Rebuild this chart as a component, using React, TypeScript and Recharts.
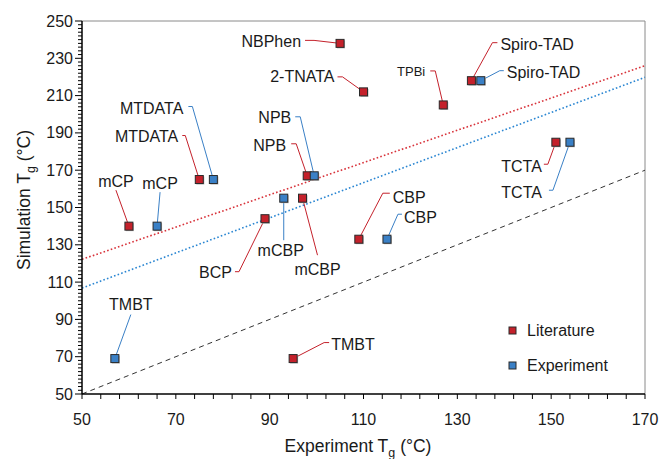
import { Legend, ReferenceLine, Scatter, ScatterChart, XAxis, YAxis } from "recharts";

const FONT = "'Liberation Sans', Arial, Helvetica, sans-serif";
const RED = "#c4212b";
const BLUE = "#3a80c6";

// literature Tg vs simulated Tg
const litNames = ["NBPhen", "2-TNATA", "TPBi", "Spiro-TAD", "TCTA", "MTDATA", "NPB", "mCP", "mCBP", "BCP", "CBP", "TMBT"];
const litX = [105, 110, 127, 133, 151, 75, 98, 60, 97, 89, 109, 95];
const litY = [238, 212, 205, 218, 185, 165, 167, 140, 155, 144, 133, 69];

// measured Tg vs simulated Tg
const expNames = ["Spiro-TAD", "TCTA", "MTDATA", "NPB", "mCP", "mCBP", "CBP", "TMBT"];
const expX = [135, 154, 78, 99.5, 66, 93, 115, 57];
const expY = [218, 185, 165, 167, 140, 155, 133, 69];

// fit lines (endpoints at x = 50 and x = 170)
const fitX = [50, 170];
const litFitY = [122.2, 226];
const expFitY = [106.8, 219.8];
const parityY = [50, 170];

const xMajor = [50, 70, 90, 110, 130, 150, 170];
const yMajor = [50, 70, 90, 110, 130, 150, 170, 190, 210, 230, 250];

const xTicks: number[] = [];
for (let v = 50; v <= 170; v += 4) xTicks.push(v);
const yTicks: number[] = [];
for (let v = 50; v <= 250; v += 2) yTicks.push(v);

const litData = litNames.map((name, i) => ({ name, x: litX[i], y: litY[i] }));
const expData = expNames.map((name, i) => ({ name, x: expX[i], y: expY[i] }));

type Anchor = "start" | "middle" | "end";
interface LabelPos {
  dx: number;
  dy: number;
  anchor: Anchor;
  path: [number, number][];
  size?: number;
}

// label placement relative to the marker, in px
const litLabels: Record<string, LabelPos> = {
  NBPhen: { dx: -39, dy: -2, anchor: "end", path: [[-35, -3], [-26, -3]] },
  "2-TNATA": { dx: -29, dy: -15, anchor: "end", path: [[-26, -15], [-21, -15]] },
  TPBi: { dx: -18, dy: -33, anchor: "end", path: [[-13, -34], [-8, -34]], size: 13 },
  "Spiro-TAD": { dx: 29, dy: -36, anchor: "start", path: [[26, -38], [21, -38]] },
  TCTA: { dx: -14, dy: 24, anchor: "end", path: [[-12, 22], [-8, 22]] },
  MTDATA: { dx: -21, dy: -43, anchor: "end", path: [[-17, -44], [-14, -44]] },
  NPB: { dx: -21, dy: -30, anchor: "end", path: [[-16, -32], [-11, -32]] },
  mCP: { dx: -13, dy: -45, anchor: "middle", path: [[-13, -36]] },
  mCBP: { dx: 15, dy: 71, anchor: "middle", path: [[15, 57]] },
  BCP: { dx: -33, dy: 54, anchor: "end", path: [[-30, 53], [-26, 53]] },
  CBP: { dx: 34, dy: -42, anchor: "start", path: [[31, -46], [24, -46]] },
  TMBT: { dx: 38, dy: -14, anchor: "start", path: [[36, -16], [31, -16]] },
};

const expLabels: Record<string, LabelPos> = {
  "Spiro-TAD": { dx: 26, dy: -8, anchor: "start", path: [[23, -10], [19, -10]] },
  TCTA: { dx: -28, dy: 50, anchor: "end", path: [[-21, 48], [-17, 48]] },
  MTDATA: { dx: -30, dy: -71, anchor: "end", path: [[-25, -73], [-21, -73]] },
  NPB: { dx: -23, dy: -58, anchor: "end", path: [[-19, -59], [-14, -59]] },
  mCP: { dx: 3, dy: -43, anchor: "middle", path: [[3, -34]] },
  mCBP: { dx: -3, dy: 52, anchor: "middle", path: [[0, 42]] },
  CBP: { dx: 17, dy: -22, anchor: "start", path: [[15, -25], [11, -25]] },
  TMBT: { dx: 16, dy: -54, anchor: "middle", path: [[16, -44]] },
};

function Marker({ cx, cy, color, size = 8 }: { cx: number; cy: number; color: string; size?: number }) {
  const h = size / 2;
  return (
    <g>
      <rect x={cx - h + 1} y={cy - h + 1} width={size} height={size} fill="#b5b5b5" />
      <rect x={cx - h} y={cy - h} width={size} height={size} fill={color} stroke="#2a2a2a" strokeWidth={1} />
    </g>
  );
}

function makeShape(color: string, labels: Record<string, LabelPos>) {
  return (props: any) => {
    const { cx, cy, payload } = props;
    const lab = labels[payload.name];
    if (!lab) return <Marker cx={cx} cy={cy} color={color} />;
    const pts = [...lab.path.map(([px, py]) => `${cx + px},${cy + py}`), `${cx},${cy}`].join(" ");
    return (
      <g>
        <polyline points={pts} fill="none" stroke={color} strokeWidth={1} />
        <Marker cx={cx} cy={cy} color={color} />
        <text
          x={cx + lab.dx}
          y={cy + lab.dy}
          textAnchor={lab.anchor}
          dominantBaseline="central"
          fontFamily={FONT}
          fontSize={lab.size ?? 16}
          fill="#1a1a1a"
        >
          {payload.name}
        </text>
      </g>
    );
  };
}

const XTick = ({ x, y, payload }: any) => {
  const major = xMajor.includes(payload.value);
  return (
    <g>
      <line x1={x} x2={x} y1={y} y2={y + 5} stroke="#000" strokeWidth={1} />
      {major && (
        <text x={x} y={y + 25} textAnchor="middle" dominantBaseline="central" fontFamily={FONT} fontSize={16} fill="#1a1a1a">
          {payload.value}
        </text>
      )}
    </g>
  );
};

const YTick = ({ x, y, payload }: any) => {
  const major = yMajor.includes(payload.value);
  return (
    <g>
      <line x1={x} x2={x - (major ? 7 : 4)} y1={y} y2={y} stroke="#000" strokeWidth={1} />
      {major && (
        <text x={x - 9} y={y} textAnchor="end" dominantBaseline="central" fontFamily={FONT} fontSize={16} fill="#1a1a1a">
          {payload.value}
        </text>
      )}
    </g>
  );
};

const LegendBox = () => (
  <div style={{ fontFamily: FONT, fontSize: 16, color: "#1a1a1a" }}>
    {[
      { name: "Literature", color: RED },
      { name: "Experiment", color: BLUE },
    ].map((item) => (
      <div key={item.name} style={{ display: "flex", alignItems: "center", height: 35 }}>
        <svg width={20} height={12} style={{ marginRight: 3 }}>
          <rect x={5} y={2} width={7} height={7} fill={item.color} stroke="#2a2a2a" strokeWidth={1} />
        </svg>
        <span>{item.name}</span>
      </div>
    ))}
  </div>
);

export default function App() {
  return (
    <div style={{ position: "relative", width: 659, height: 459, background: "#fff" }}>
      <style>{"body{margin:0}"}</style>
      <ScatterChart width={659} height={459} margin={{ top: 21, right: 14, left: 22, bottom: 35 }}>
        <XAxis
          type="number"
          dataKey="x"
          domain={[50, 170]}
          ticks={xTicks}
          interval={0}
          height={30}
          tickSize={0}
          tickMargin={0}
          tickLine={false}
          tick={<XTick />}
          axisLine={{ stroke: "#000", strokeWidth: 1.5 }}
        />
        <YAxis
          type="number"
          dataKey="y"
          domain={[50, 250]}
          ticks={yTicks}
          interval={0}
          width={60}
          tickSize={0}
          tickMargin={0}
          tickLine={false}
          tick={<YTick />}
          axisLine={{ stroke: "#000", strokeWidth: 1.5 }}
        />
        <ReferenceLine y={250} stroke="#8a8a8a" strokeWidth={1} />
        <ReferenceLine x={170} stroke="#8a8a8a" strokeWidth={1} />
        <ReferenceLine
          segment={[{ x: fitX[0], y: parityY[0] }, { x: fitX[1], y: parityY[1] }]}
          stroke="#333"
          strokeWidth={1}
          strokeDasharray="5 4"
        />
        <ReferenceLine
          segment={[{ x: fitX[0], y: litFitY[0] }, { x: fitX[1], y: litFitY[1] }]}
          stroke="#d8323a"
          strokeWidth={1.6}
          strokeDasharray="1.6 2.2"
        />
        <ReferenceLine
          segment={[{ x: fitX[0], y: expFitY[0] }, { x: fitX[1], y: expFitY[1] }]}
          stroke="#2a86d2"
          strokeWidth={1.6}
          strokeDasharray="1.6 2.2"
        />
        <Scatter name="Literature" data={litData} fill={RED} shape={makeShape(RED, litLabels)} isAnimationActive={false} />
        <Scatter name="Experiment" data={expData} fill={BLUE} shape={makeShape(BLUE, expLabels)} isAnimationActive={false} />
        <Legend
          layout="vertical"
          align="center"
          verticalAlign="middle"
          wrapperStyle={{ left: 504, top: 313, width: 130 }}
          content={<LegendBox />}
        />
      </ScatterChart>
      <svg width={659} height={459} style={{ position: "absolute", left: 0, top: 0, pointerEvents: "none" }}>
        <text x={358} y={452} textAnchor="middle" fontFamily={FONT} fontSize={17.5} fill="#1a1a1a">
          Experiment T<tspan fontSize={12.5} dy={5}>g</tspan>
          <tspan dy={-5}> (°C)</tspan>
        </text>
        <text
          transform="translate(30,200) rotate(-90)"
          x={0}
          y={0}
          textAnchor="middle"
          fontFamily={FONT}
          fontSize={17.5}
          fill="#1a1a1a"
        >
          Simulation T<tspan fontSize={12.5} dy={5}>g</tspan>
          <tspan dy={-5}> (°C)</tspan>
        </text>
      </svg>
    </div>
  );
}
